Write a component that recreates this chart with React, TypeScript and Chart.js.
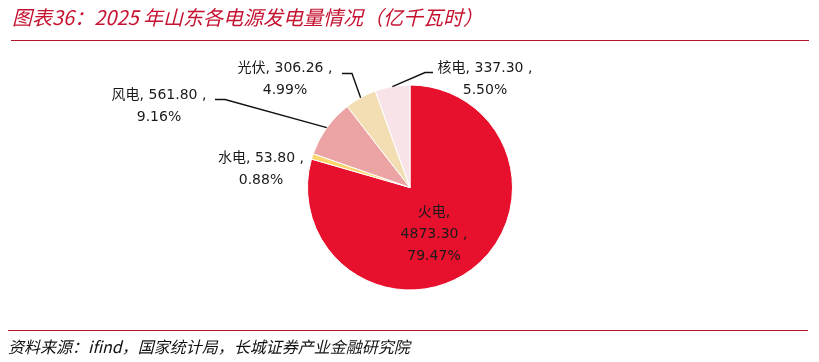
import React, { useEffect, useRef } from "react";
import { Chart, registerables } from "chart.js";

Chart.register(...registerables);

const categories = ["火电", "水电", "风电", "光伏", "核电"];
const values = [4873.3, 53.8, 561.8, 306.26, 337.3];
const valueTexts = ["4873.30", "53.80", "561.80", "306.26", "337.30"];
const percentTexts = ["79.47%", "0.88%", "9.16%", "4.99%", "5.50%"];
const colors = ["#E8112D", "#FFD56E", "#EBA3A3", "#F2DEB2", "#F8E3E8"];

const TITLE = "图表36：2025 年山东各电源发电量情况（亿千瓦时）";
const SOURCE = "资料来源：ifind，国家统计局，长城证券产业金融研究院";

// label layout (offsets from pie centre): text centre, optional leader elbow/end
const labelLayout = [
  { tx: 24, ty: 25, lines: 3, leader: null },
  { tx: -149, ty: -29, lines: 2, leader: null },
  { tx: -251, ty: -92, lines: 2, leader: { ex: -185, ey: -88, endx: -195 } },
  { tx: -125, ty: -119, lines: 2, leader: { ex: -58, ey: -114, endx: -68 } },
  { tx: 75, ty: -119, lines: 2, leader: { ex: 15, ey: -115, endx: 23 } },
];

const labelPlugin = {
  id: "pieLabels",
  afterDatasetsDraw(chart: any) {
    const ctx = chart.ctx;
    const meta = chart.getDatasetMeta(0);
    ctx.save();
    ctx.font = '14px "DejaVu Sans", "Noto Sans CJK SC", sans-serif';
    ctx.fillStyle = "#1a1a1a";
    ctx.textAlign = "center";
    ctx.textBaseline = "middle";
    meta.data.forEach((arc: any, i: number) => {
      const { x, y, startAngle, endAngle, outerRadius } = arc.getProps(
        ["x", "y", "startAngle", "endAngle", "outerRadius"],
        true
      );
      const lay = labelLayout[i];
      let lines: string[];
      if (lay.lines === 3) {
        lines = [categories[i] + ",", valueTexts[i] + " ,", percentTexts[i]];
      } else {
        lines = [categories[i] + ", " + valueTexts[i] + " ,", percentTexts[i]];
      }
      const lh = 22;
      lines.forEach((t, k) => {
        ctx.fillText(t, x + lay.tx, y + lay.ty + k * lh);
      });
      if (lay.leader) {
        const mid = (startAngle + endAngle) / 2;
        const ax = x + Math.cos(mid) * outerRadius;
        const ay = y + Math.sin(mid) * outerRadius;
        ctx.beginPath();
        ctx.strokeStyle = "#111";
        ctx.lineWidth = 1.4;
        ctx.moveTo(ax, ay);
        ctx.lineTo(x + lay.leader.ex, y + lay.leader.ey);
        ctx.lineTo(x + lay.leader.endx, y + lay.leader.ey);
        ctx.stroke();
      }
    });
    ctx.restore();
  },
};

export default function App() {
  const ref = useRef<HTMLCanvasElement>(null);
  useEffect(() => {
    if (!ref.current) return;
    const chart = new Chart(ref.current, {
      type: "pie",
      data: {
        labels: categories,
        datasets: [
          {
            data: values,
            backgroundColor: colors,
            borderColor: "#ffffff",
            borderWidth: 1,
          },
        ],
      },
      options: {
        animation: false,
        responsive: false,
        maintainAspectRatio: false,
        devicePixelRatio: 1,
        layout: { padding: { top: 84, bottom: 71, left: 307, right: 306 } },
        plugins: {
          legend: { display: false },
          tooltip: { enabled: false },
        },
      },
      plugins: [labelPlugin],
    });
    return () => chart.destroy();
  }, []);

  return (
    <div
      style={{
        position: "fixed",
        left: 0,
        top: 0,
        width: 819,
        height: 362,
        background: "#fff",
        overflow: "hidden",
      }}
    >
      <canvas ref={ref} width={819} height={362} style={{ position: "absolute", left: 0, top: 0 }} />
      <div
        style={{
          position: "absolute",
          left: 12,
          top: 3,
          fontFamily: '"Noto Sans CJK SC", sans-serif',
          fontStyle: "italic",
          fontSize: 20,
          lineHeight: "28px",
          color: "#C41230",
          whiteSpace: "nowrap",
        }}
      >
        {TITLE}
      </div>
      <div style={{ position: "absolute", left: 11, top: 40, width: 798, height: 1, background: "#B3172E" }} />
      <div style={{ position: "absolute", left: 8, top: 330, width: 800, height: 1, background: "#B3172E" }} />
      <div
        style={{
          position: "absolute",
          left: 8,
          top: 335,
          fontFamily: '"Noto Sans CJK SC", sans-serif',
          fontStyle: "italic",
          fontSize: 16,
          lineHeight: "22px",
          color: "#111",
          whiteSpace: "nowrap",
        }}
      >
        {SOURCE}
      </div>
    </div>
  );
}
